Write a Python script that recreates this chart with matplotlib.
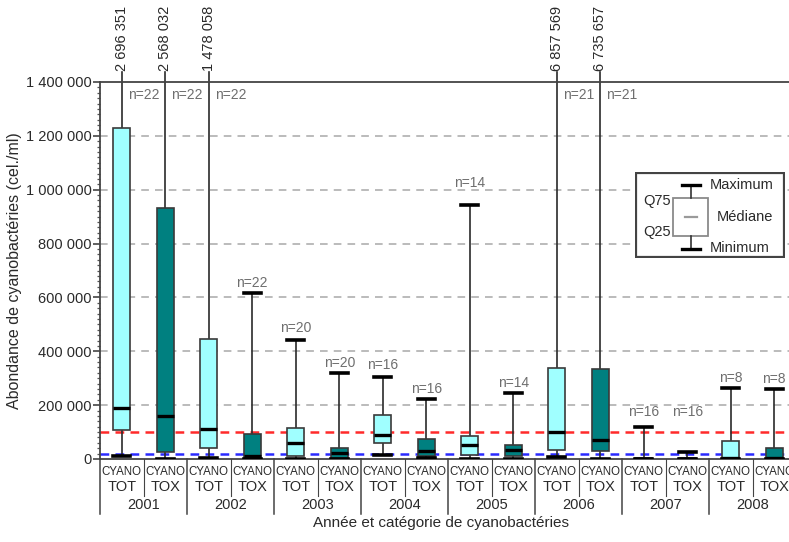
import matplotlib
matplotlib.use("Agg")
import matplotlib.pyplot as plt
import matplotlib.transforms as mtransforms
from matplotlib.ticker import MultipleLocator, FuncFormatter
from matplotlib.patches import Rectangle

# ---------------- data ----------------
years = ["2001", "2002", "2003", "2004", "2005", "2006", "2007", "2008"]
categories = ["TOT", "TOX"]
n_obs = [22, 22, 22, 22, 20, 20, 16, 16, 14, 14, 21, 21, 16, 16, 8, 8]
v_min = [12000, 0, 2000, 1000, 1000, 0, 16000, 2000, 1000, 1000, 6000, 0, 0, 0, 0, 0]
v_q25 = [109000, 27000, 39000, 5000, 12000, 3000, 60000, 11000, 16000, 12000, 34000, 29000, 500, 500, 1000, 1000]
v_med = [188000, 160000, 112000, 12000, 58000, 24000, 89000, 29000, 52000, 35000, 100000, 69000, 1000, 1000, 3000, 2000]
v_q75 = [1228000, 932000, 446000, 91000, 114000, 42000, 164000, 73000, 85000, 51000, 337000, 333000, 2000, 2000, 67000, 39000]
v_max = [2696351, 2568032, 1478058, 617000, 443000, 321000, 304000, 222000, 945000, 245000,
         6857569, 6735657, 119000, 25000, 264000, 261000]
ref_red = 100000
ref_blue = 20000
y_top = 1400000

# ---------------- layout / styles ----------------
W, H = 789, 542
fig = plt.figure(figsize=(W / 100, H / 100), dpi=100)
plt.rcParams['font.family'] = ['Liberation Sans', 'DejaVu Sans']
ax_left, ax_right_px, ax_top_px, ax_bot_px = 100, 789, 82, 459
slot_px = 43.5
ax = fig.add_axes([ax_left / W, 1 - ax_bot_px / H, (ax_right_px - ax_left) / W,
                   (ax_bot_px - ax_top_px) / H])
ax_h_px = ax_bot_px - ax_top_px

tot_color = "#a0ffff"
tox_color = "#008080"
edge = "#3a3a3a"
text_dark = "#2a2a2a"
n_color = "#6e6e6e"

n = len(n_obs)
positions = [i + 0.5 for i in range(n)]
stats = []
for i in range(n):
    stats.append(dict(med=v_med[i], q1=v_q25[i], q3=v_q75[i],
                      whislo=v_min[i], whishi=v_max[i], fliers=[]))

bp = ax.bxp(stats, positions=positions, widths=0.40, capwidths=0.38,
            patch_artist=True, showfliers=False, manage_ticks=False,
            boxprops=dict(edgecolor=edge, linewidth=1.2),
            whiskerprops=dict(color="#2a2a2a", linewidth=1.2),
            capprops=dict(color="black", linewidth=2.6),
            medianprops=dict(color="black", linewidth=2.4))
for i, b in enumerate(bp['boxes']):
    b.set_facecolor(tot_color if i % 2 == 0 else tox_color)
    b.set_zorder(3)
for m in bp['medians']:
    m.set_zorder(4)
for w in bp['whiskers']:
    w.set_zorder(2.5)
for c in bp['caps']:
    c.set_zorder(4)

ax.set_xlim(0, (ax_right_px - ax_left) / slot_px)
ax.set_ylim(0, y_top)

# grid & reference lines
for gv in range(200000, y_top, 200000):
    ax.axhline(gv, color="#a8a8a8", lw=1.1, ls=(0, (5, 4)), zorder=1)
ax.axhline(ref_red, color="#ff2a2a", lw=1.8, ls=(0, (3.5, 2.5)), zorder=2)
ax.axhline(ref_blue, color="#2a2aff", lw=1.8, ls=(0, (3.5, 2.5)), zorder=2)

# spines & ticks
ax.spines['right'].set_visible(False)
for s in ['top', 'left', 'bottom']:
    ax.spines[s].set_color("#444444")
    ax.spines[s].set_linewidth(1.3)
ax.yaxis.set_major_locator(MultipleLocator(200000))
ax.yaxis.set_minor_locator(MultipleLocator(20000))
ax.yaxis.set_major_formatter(FuncFormatter(lambda v, p: f"{int(v):,}".replace(",", " ")))
ax.tick_params(axis='y', which='major', length=5, width=1.2, color="#444444",
               labelsize=10.5, labelcolor=text_dark, pad=1)
ax.tick_params(axis='y', which='minor', length=2.5, width=0.9, color="#555555")
ax.set_xticks([])

ax.set_ylabel("Abondance de cyanobactéries (cel./ml)", fontsize=11.5, color=text_dark)
ax.yaxis.set_label_coords(-(ax_left - 22) / (ax_right_px - ax_left), 0.5)

trans = mtransforms.blended_transform_factory(ax.transData, ax.transAxes)

def px_frac(p):
    return p / ax_h_px

# off-chart maxima labels and n labels
n_lift_px = [0, 0, 0, 10, 12, 10, 12, 10, 22, 10, 0, 0, 15, 40, 10, 10]
for i in range(n):
    x = positions[i]
    if v_max[i] > y_top:
        ax.plot([x, x], [1.0, 1.0 + px_frac(10)], transform=trans, color="#2a2a2a",
                lw=1.2, clip_on=False)
        ax.text(x, 1.0 + px_frac(11), f"{v_max[i]:,}".replace(",", " "), transform=trans,
                rotation=90, ha='center', va='bottom', fontsize=10.5, color=text_dark)
        ax.text(x + 6 / slot_px, 1.0 - px_frac(13), f"n={n_obs[i]}", transform=trans,
                ha='left', va='center', fontsize=10, color=n_color)
    else:
        yfrac = v_max[i] / y_top + px_frac(n_lift_px[i])
        ax.text(x, yfrac, f"n={n_obs[i]}", transform=trans, ha='center', va='center',
                fontsize=10, color=n_color)

# category / year labels under the axis
for i in range(n):
    x = positions[i]
    ax.text(x, -px_frac(13), "CYANO", transform=trans, ha='center', va='center',
            fontsize=8.3, color=text_dark)
    ax.text(x, -px_frac(28), categories[i % 2], transform=trans, ha='center', va='center',
            fontsize=10.5, color=text_dark)
for k, yr in enumerate(years):
    ax.text(2 * k + 1, -px_frac(46), yr, transform=trans, ha='center', va='center',
            fontsize=10.5, color=text_dark)
for b in range(n + 1):
    depth = 55 if b % 2 == 0 else 37
    ax.plot([b, b], [0, -px_frac(depth)], transform=trans, color="#444444",
            lw=1.1 if b % 2 == 0 else 0.8, clip_on=False)

fig.text(0.5 * (ax_left + 789) / W - 0.005, 1 - 523 / H, "Année et catégorie de cyanobactéries",
         ha='center', va='center', fontsize=11, color=text_dark)

# legend (drawn in pixel coordinates of an inset)
lx0, lx1, ly0, ly1 = 635, 785, 172, 258
lg = fig.add_axes([lx0 / W, 1 - ly1 / H, (lx1 - lx0) / W, (ly1 - ly0) / H])
lg.set_xlim(lx0, lx1)
lg.set_ylim(ly1, ly0)
lg.axis('off')
lg.add_patch(Rectangle((lx0 + 1, ly0 + 1), lx1 - lx0 - 2, ly1 - ly0 - 2, facecolor='white',
                       edgecolor="#444444", lw=1.6))
lg.add_patch(Rectangle((673, 198), 35, 38, facecolor='white', edgecolor="#8a8a8a", lw=1.3))
lg.plot([691, 691], [185, 198], color="#333333", lw=1.2)
lg.plot([691, 691], [236, 249], color="#333333", lw=1.2)
lg.plot([682, 700], [185, 185], color="black", lw=2.4)
lg.plot([682, 700], [249, 249], color="black", lw=2.4)
lg.plot([685, 697], [217, 217], color="#9a9a9a", lw=1.6)
lg.text(710, 185, "Maximum", ha='left', va='center', fontsize=10.5, color=text_dark)
lg.text(717, 217, "Médiane", ha='left', va='center', fontsize=10.5, color=text_dark)
lg.text(710, 248, "Minimum", ha='left', va='center', fontsize=10.5, color=text_dark)
lg.text(671, 201, "Q75", ha='right', va='center', fontsize=10.5, color=text_dark)
lg.text(671, 232, "Q25", ha='right', va='center', fontsize=10.5, color=text_dark)

fig.savefig("out.png", dpi=100)
